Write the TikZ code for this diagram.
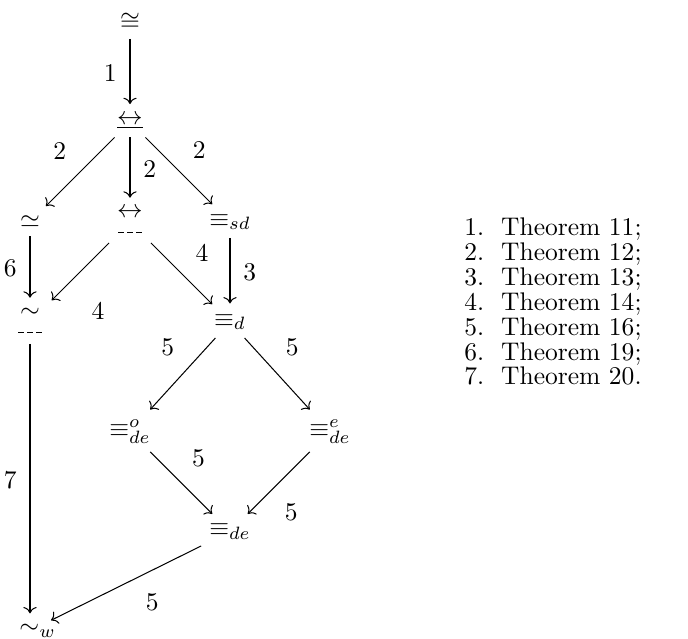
\documentclass[tikz,border=0pt]{standalone}
\usepackage{amsmath}
\usepackage{amssymb}
\usepackage{mathtools}
\usepackage{tikz}
\usetikzlibrary{positioning, arrows.meta}

\newcommand{\dashbar}{\rule{2.2pt}{0.4pt}\kern1.3pt\rule{2.2pt}{0.4pt}\kern1.3pt\rule{2.2pt}{0.4pt}}
\newcommand{\bisim}{\mathrel{\underline{\leftrightarrow}}}
\newcommand{\dbisim}{\mathrel{\underset{\dashbar}{\leftrightarrow}}}
\newcommand{\dsim}{\mathrel{\underset{\dashbar}{\sim}}}

\begin{document}
\begin{tikzpicture}[
    x=0.392pt, y=-0.392pt,
    ->, >={To}, shorten >=1pt, node distance=39.2pt, on grid, auto,
    rel/.style={inner sep=3pt},
    lab/.style={inner sep=5pt}
]
    \useasboundingbox (0,0) rectangle (688,639);

    \node[rel] (cong) at (130,22) {$\cong$};
    \node[rel] (bis) [below=of cong] {$\bisim$};
    \node[rel] (dbis) [below=of bis] {$\dbisim$};
    \node[rel] (simeq) [left=of dbis] {$\simeq$};
    \node[rel] (sd) [right=of dbis] {$\equiv_{sd}$};
    \node[rel] (dsim) [below=of simeq] {$\dsim$};
    \node[rel] (d) [below=of sd] {$\equiv_d$};
    \node[rel] (o) [below left=43pt and 39.2pt of d] {$\equiv^o_{de}$};
    \node[rel] (e) [below right=43pt and 39.2pt of d] {$\equiv^e_{de}$};
    \node[rel] (de) [below right=39.2pt and 39.2pt of o] {$\equiv_{de}$};
    \node[rel] (w) [below=121pt of dsim] {$\sim_{\mathrlap{w}}$};

    \path
        (cong) edge node [lab, swap] {1} (bis)
        (bis) edge node [lab, swap] {2} (simeq)
        (bis) edge node [lab] {2} (dbis)
        (bis) edge node [lab] {2} (sd)
        (simeq) edge node [lab, swap] {6} (dsim)
        (dbis) edge node [lab, pos=0.65, inner sep=8pt] {4} (dsim)
        (dbis) edge node [lab, pos=0.5] {4} (d)
        (sd) edge node [lab] {3} (d)
        (d) edge node [lab, swap, pos=0.42] {5} (o)
        (d) edge node [lab, pos=0.42] {5} (e)
        (o) edge node [lab, pos=0.45] {5} (de)
        (e) edge node [lab, pos=0.6] {5} (de)
        (dsim) edge node [lab, swap] {7} (w)
        (de) edge node [lab, pos=0.45] {5} (w);

    % list of results used
    \node (thms) at (553,305) [align=left, anchor=center, -] {%
        \renewcommand{\arraystretch}{0.78}%
        \begin{tabular}{@{}r@{~~}l@{}}
        1. & Theorem 11;\\
        2. & Theorem 12;\\
        3. & Theorem 13;\\
        4. & Theorem 14;\\
        5. & Theorem 16;\\
        6. & Theorem 19;\\
        7. & Theorem 20.
        \end{tabular}};
\end{tikzpicture}
\end{document}
